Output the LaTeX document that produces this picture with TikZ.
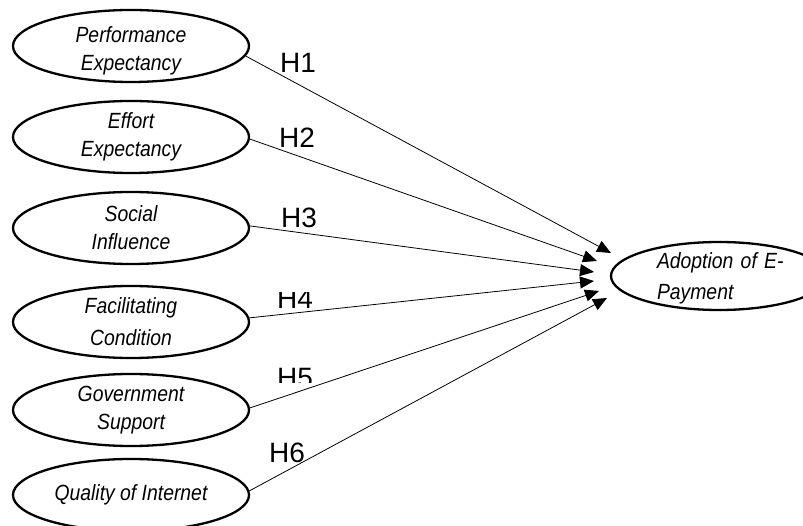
\documentclass[tikz,border=0pt]{standalone}
\usepackage{fontspec}
\setmainfont{Liberation Sans}
\newfontfamily\constructfont{Liberation Sans}[FakeStretch=0.88]
\usetikzlibrary{positioning, arrows.meta, shapes.geometric}

\begin{document}
\begin{tikzpicture}[
        x=1pt, y=-1pt,
        construct/.style={ellipse, draw=black, line width=2.3pt, minimum width=236pt, minimum height=72pt, inner sep=0pt, align=center, font=\constructfont\fontsize{22}{28}\selectfont\itshape},
        hlabel/.style={anchor=base, inner sep=0pt, font=\fontsize{28}{30}\selectfont},
        arrow/.style={-{Triangle[length=14pt, width=12pt]}, line width=0.8pt, draw=black}
    ]
    \useasboundingbox (0,0) rectangle (803,526);
    \clip (0,0) rectangle (803,526);

    % Constructs
    \node[construct, inner ysep=-6pt] (pe) at (131,46) {\rule{0pt}{26pt}Performance\\Expectancy};
    \node[construct] (ee) at (131,137) {Effort\\Expectancy};
    \node[construct] (si) at (131,228) {Social\\Influence};
    \node[construct, font=\constructfont\fontsize{22}{32}\selectfont\itshape] (fc) at (131,322) {Facilitating\\Condition};
    \node[construct] (gs) at (131,410) {Government\\Support};
    \node[construct] (qi) at (131,495) {Quality of Internet};

    % Dependent variable
    \node[construct, minimum width=216pt, minimum height=68pt] (adopt) at (719,276) {};
    \node[align=left, text width=130pt, inner sep=0pt, font=\constructfont\fontsize{22}{31}\selectfont\itshape] (adopttxt) at (722,278) {Adoption of E-\\Payment};

    % Arrow tips
    \coordinate (t1) at (611,253);
    \coordinate (t2) at (597,261);
    \coordinate (t3) at (594,272);
    \coordinate (t4) at (594,281);
    \coordinate (t5) at (599,291);
    \coordinate (t6) at (607,298);

    % Paths
    \draw[arrow] (pe.-5) -- (t1);
    \draw[arrow] (ee.-1.5) -- (t2);
    \draw[arrow] (si.1) -- (t3);
    \draw[arrow] (fc.2) -- (t4);
    \draw[arrow] (gs.1.5) -- (t5);
    \draw[arrow] (qi.2.5) -- (t6);

    % Hypotheses
    \node[hlabel] (h1) at (298,73) {H1};
    \node[hlabel] (h2) at (297,148) {H2};
    \node[hlabel] (h3) at (299,228) {H3};
    \begin{scope}
        \clip (260,293) rectangle (330,320);
        \node[hlabel] (h4) at (295,309) {H4};
    \end{scope}
    \begin{scope}
        \clip (260,360) rectangle (330,383);
        \node[hlabel] (h5) at (295,388) {H5};
    \end{scope}
    \node[hlabel] (h6) at (287,462) {H6};

\end{tikzpicture}
\end{document}
